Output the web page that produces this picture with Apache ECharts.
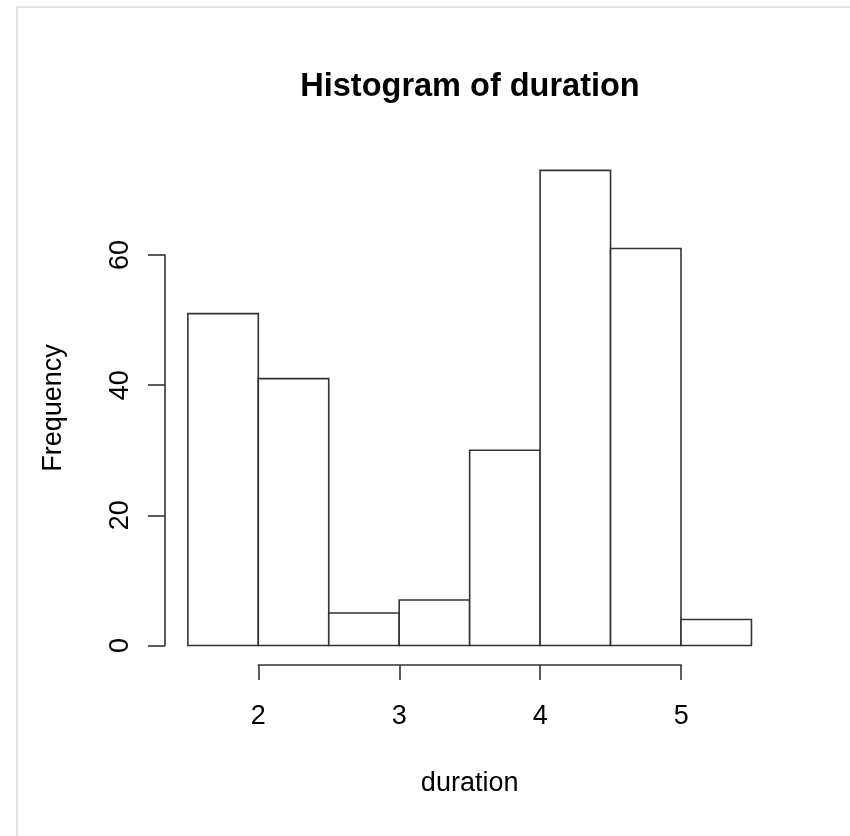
<!DOCTYPE html>
<html>
<head>
<meta charset="utf-8">
<script src="https://cdn.jsdelivr.net/npm/echarts@6/dist/echarts.min.js"></script>
<style>
html,body{margin:0;padding:0;background:#fff;}
#wrap{position:relative;width:850px;height:836px;}
#chart{position:absolute;left:0;top:0;width:850px;height:836px;}
#frame{position:absolute;left:16px;top:6px;right:0;bottom:0;border-left:2px solid #e2e2e2;border-top:2px solid #e2e2e2;pointer-events:none;}
</style>
</head>
<body>
<div id="wrap"><div id="chart"></div><div id="frame"></div></div>
<script>
// Data
const binEdges = [1.5, 2, 2.5, 3, 3.5, 4, 4.5, 5, 5.5];
const counts = [51, 41, 5, 7, 30, 73, 61, 4];
const xTicks = [2, 3, 4, 5];
const yTicks = [0, 20, 40, 60];
const titleText = 'Histogram of duration';
const xLabel = 'duration';
const yLabel = 'Frequency';

const bins = counts.map((c, i) => [binEdges[i], binEdges[i + 1], c]);

const FONT = '"Liberation Sans", Arial, Helvetica, sans-serif';
const LINE = '#333';

const chart = echarts.init(document.getElementById('chart'), null, {renderer: 'canvas'});
chart.setOption({
  animation: false,
  backgroundColor: '#fff',
  title: {
    text: titleText,
    left: 465, top: 66, textAlign: 'center',
    textStyle: {fontFamily: FONT, fontSize: 32.5, fontWeight: 'bold', color: '#000'}
  },
  grid: [
    {left: 165.3, right: 76, top: 151.4, bottom: 171.5},
    {left: 258.3, right: 168.8, top: 255, bottom: 190.5}
  ],
  xAxis: [
    {
      gridIndex: 0, type: 'value', min: 1.34, max: 5.66,
      name: xLabel, nameLocation: 'middle', nameGap: 106,
      nameTextStyle: {fontFamily: FONT, fontSize: 27, color: '#000'},
      axisLine: {show: false}, axisTick: {show: false}, axisLabel: {show: false}, splitLine: {show: false}
    },
    {
      gridIndex: 1, type: 'value', min: xTicks[0], max: xTicks[xTicks.length - 1], interval: 1,
      position: 'bottom', offset: 19.5,
      axisLine: {show: true, onZero: false, lineStyle: {color: LINE, width: 1.6}},
      axisTick: {show: true, length: 15, lineStyle: {color: LINE, width: 1.6}},
      axisLabel: {show: true, margin: 38, fontFamily: FONT, fontSize: 27, color: '#000'},
      splitLine: {show: false}
    }
  ],
  yAxis: [
    {
      gridIndex: 0, type: 'value', min: -2.92, max: 75.92,
      name: yLabel, nameLocation: 'middle', nameGap: 98, nameRotate: 90,
      nameTextStyle: {fontFamily: FONT, fontSize: 27, color: '#000'},
      axisLine: {show: false}, axisTick: {show: false}, axisLabel: {show: false}, splitLine: {show: false}
    },
    {
      gridIndex: 1, type: 'value', min: yTicks[0], max: yTicks[yTicks.length - 1], interval: 20,
      position: 'left', offset: 93.3,
      axisLine: {show: true, onZero: false, lineStyle: {color: LINE, width: 1.6}},
      axisTick: {show: true, length: 17, lineStyle: {color: LINE, width: 1.6}},
      axisLabel: {show: true, rotate: 90, margin: 31, fontFamily: FONT, fontSize: 27, color: '#000'},
      splitLine: {show: false}
    }
  ],
  series: [
    {
      type: 'custom',
      xAxisIndex: 0, yAxisIndex: 0,
      data: bins,
      encode: {x: [0, 1], y: 2},
      clip: false,
      renderItem: function (params, api) {
        const p0 = api.coord([api.value(0), 0]);
        const p1 = api.coord([api.value(1), api.value(2)]);
        return {
          type: 'rect',
          shape: {x: p0[0], y: p1[1], width: p1[0] - p0[0], height: p0[1] - p1[1]},
          style: {fill: '#fff', stroke: LINE, lineWidth: 1.6}
        };
      }
    }
  ]
});
</script>
</body>
</html>
